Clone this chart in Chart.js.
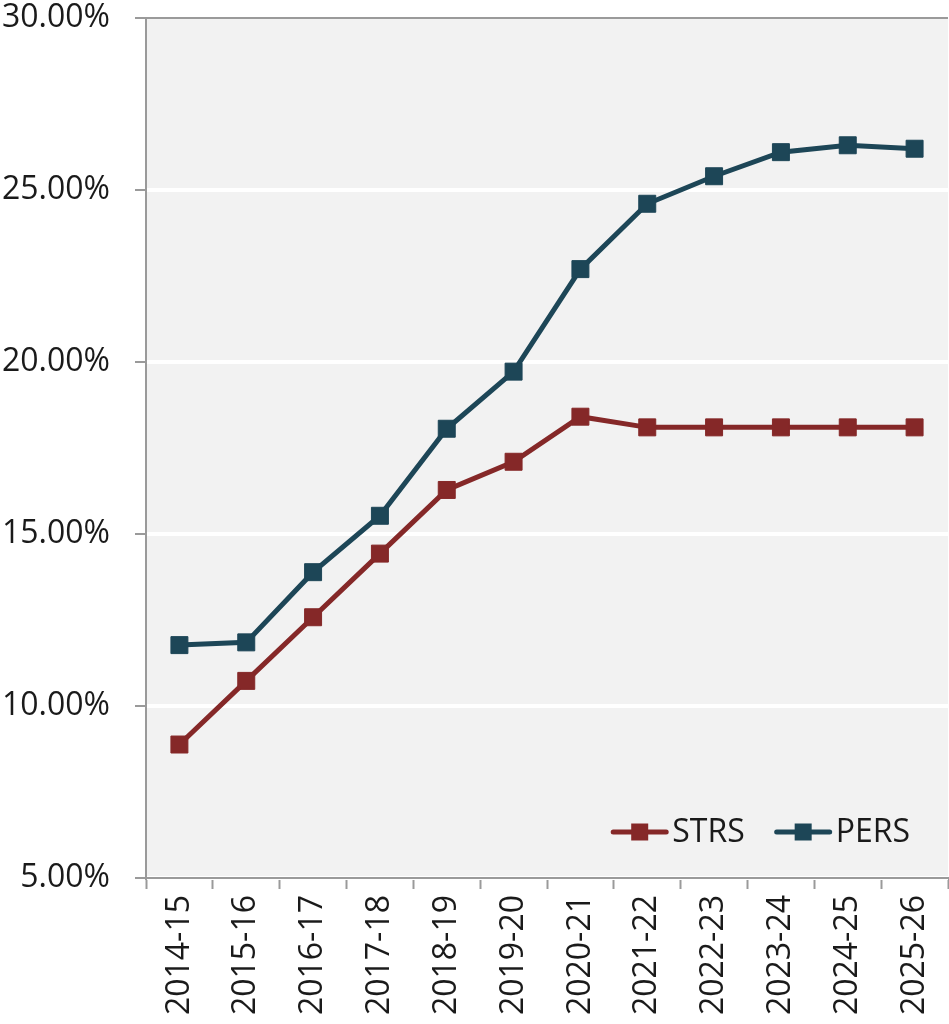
<!DOCTYPE html>
<html>
<head>
<meta charset="utf-8">
<script src="https://cdn.jsdelivr.net/npm/chart.js@4"></script>
<style>
  html, body { margin: 0; padding: 0; background: #ffffff; }
  #wrap { width: 949px; height: 1024px; position: relative; }
</style>
</head>
<body>
<div id="wrap"><canvas id="chart" width="949" height="1024"></canvas></div>
<script>
// Fiscal years on the category axis
const years = ['2014-15', '2015-16', '2016-17', '2017-18', '2018-19', '2019-20',
               '2020-21', '2021-22', '2022-23', '2023-24', '2024-25', '2025-26'];

// Employer contribution rates, percent of payroll
const strsRates = [8.88, 10.73, 12.58, 14.43, 16.28, 17.10, 18.41, 18.10, 18.10, 18.10, 18.10, 18.10];
const persRates = [11.77, 11.85, 13.89, 15.53, 18.06, 19.72, 22.70, 24.60, 25.40, 26.10, 26.30, 26.20];

// Value axis ticks
const yTicks = [5, 10, 15, 20, 25, 30];

const seriesNames = ['STRS', 'PERS'];
const seriesColors = ['#852828', '#1d4657'];

const FONT = '"Open Sans", "Noto Sans", sans-serif';
const FONT_SIZE = 32;
const AXIS_GRAY = '#9a9a9a';

// Grey plot background behind the lines
const plotBackground = {
  id: 'plotBackground',
  beforeDraw(chart) {
    const { ctx, chartArea: a } = chart;
    ctx.save();
    ctx.fillStyle = '#f2f2f2';
    ctx.fillRect(a.left, a.top, a.right - a.left, a.bottom - a.top);
    ctx.restore();
  }
};

// Legend drawn inside the lower right of the plot: line segment + square marker + name
const insideLegend = {
  id: 'insideLegend',
  afterDatasetsDraw(chart) {
    const { ctx, chartArea: a } = chart;
    ctx.save();
    ctx.font = FONT_SIZE + 'px ' + FONT;
    ctx.textBaseline = 'middle';
    const lineLen = 57, textGap = 4, itemGap = 30, sq = 17;
    const items = chart.data.datasets.map(ds => ({
      label: ds.label, color: ds.borderColor, w: ctx.measureText(ds.label).width
    }));
    let total = 0;
    items.forEach((it, i) => { total += lineLen + textGap + it.w + (i ? itemGap : 0); });
    let x = a.right - 38 - total;
    const y = a.bottom - 46;
    items.forEach((it, i) => {
      if (i) x += itemGap;
      ctx.strokeStyle = it.color;
      ctx.lineWidth = 5;
      ctx.lineCap = 'round';
      ctx.beginPath();
      ctx.moveTo(x + 2, y);
      ctx.lineTo(x + lineLen - 2, y);
      ctx.stroke();
      ctx.fillStyle = it.color;
      ctx.fillRect(x + lineLen / 2 - sq / 2, y - sq / 2, sq, sq);
      x += lineLen + textGap;
      ctx.fillStyle = '#1a1a1a';
      ctx.textAlign = 'left';
      ctx.fillText(it.label, x, y + 1);
      x += it.w;
    });
    ctx.restore();
  }
};

const datasets = [strsRates, persRates].map((vals, i) => ({
  label: seriesNames[i],
  data: vals,
  borderColor: seriesColors[i],
  backgroundColor: seriesColors[i],
  borderWidth: 5,
  pointStyle: 'rect',
  pointRadius: 12,
  pointBorderWidth: 1,
  pointHoverRadius: 12,
  tension: 0,
  fill: false
}));

new Chart(document.getElementById('chart'), {
  type: 'line',
  data: { labels: years, datasets },
  options: {
    responsive: false,
    animation: false,
    devicePixelRatio: 1,
    layout: { autoPadding: false, padding: { top: 0, left: 0, bottom: 0, right: 1 } },
    plugins: {
      legend: { display: false },
      tooltip: { enabled: false }
    },
    scales: {
      x: {
        offset: true,
        grid: {
          offset: true,
          drawOnChartArea: false,
          tickColor: AXIS_GRAY,
          tickWidth: 2,
          tickLength: 11
        },
        border: { color: AXIS_GRAY, width: 2 },
        ticks: {
          color: '#1a1a1a',
          font: { family: FONT, size: FONT_SIZE },
          minRotation: 90,
          maxRotation: 90,
          padding: 6,
          autoSkip: false
        },
        afterFit(scale) {
          scale.height = 146;
          scale.paddingLeft = 0;
          scale.paddingRight = 0;
          scale.getPadding = () => ({ left: 0, top: 0, right: 0, bottom: 0 });
        }
      },
      y: {
        min: 5,
        max: 30,
        afterBuildTicks(scale) { scale.ticks = yTicks.map(v => ({ value: v })); },
        grid: {
          color: ctx => (ctx.tick && ctx.tick.value === 30) ? AXIS_GRAY : '#ffffff',
          lineWidth: ctx => (ctx.tick && ctx.tick.value === 30) ? 2 : 4,
          tickColor: AXIS_GRAY,
          tickWidth: 2,
          tickLength: 11
        },
        border: { color: AXIS_GRAY, width: 2 },
        ticks: {
          color: '#1a1a1a',
          font: { family: FONT, size: FONT_SIZE },
          padding: 25,
          callback: v => v.toFixed(2) + '%'
        },
        afterFit(scale) {
          scale.width = 146;
          scale.paddingTop = 18;
          scale.paddingBottom = 0;
          scale.getPadding = () => ({ left: 0, top: 18, right: 0, bottom: 0 });
        }
      }
    }
  },
  plugins: [plotBackground, insideLegend]
});
</script>
</body>
</html>
